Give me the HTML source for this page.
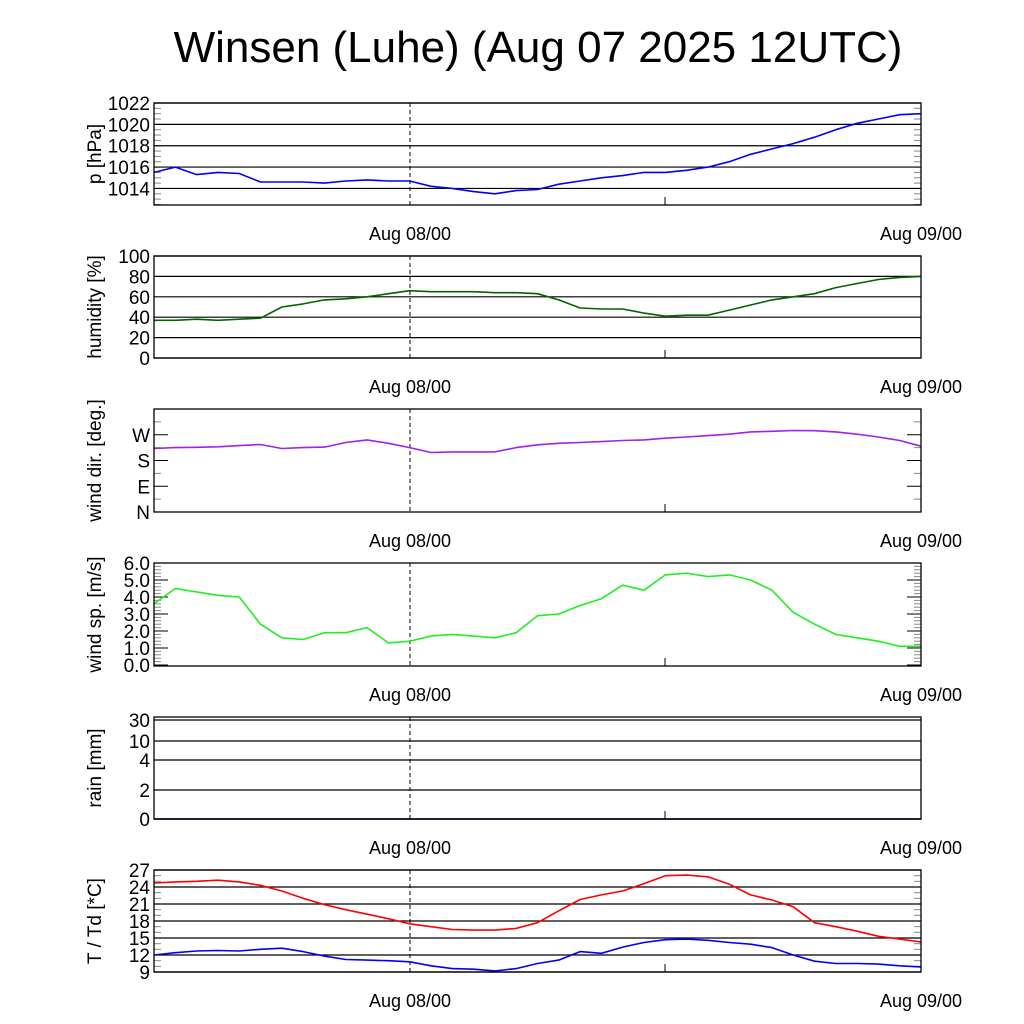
<!DOCTYPE html>
<html><head><meta charset="utf-8">
<style>
body{margin:0;background:#fff;}
svg{display:block;font-family:"Liberation Sans",sans-serif;}
</style></head>
<body>
<svg id="chart" width="1024" height="1024" viewBox="0 0 1024 1024">
<text x="538" y="62" font-size="44" text-anchor="middle">Winsen (Luhe) (Aug 07 2025 12UTC)</text>
</svg>
<script>
// time axis in hours from Aug 07 12UTC
const hours = [0,1,2,3,4,5,6,7,8,9,10,11,12,13,14,15,16,17,18,19,20,21,22,23,24,25,26,27,28,29,30,31,32,33,34,35,36];
const pressure = [1015.5,1016,1015.3,1015.5,1015.4,1014.6,1014.6,1014.6,1014.5,1014.7,1014.8,1014.7,1014.7,1014.2,1014,1013.7,1013.5,1013.8,1013.9,1014.4,1014.7,1015,1015.2,1015.5,1015.5,1015.7,1016,1016.5,1017.2,1017.7,1018.2,1018.8,1019.5,1020.1,1020.5,1020.9,1021];
const humidity = [37,37,38,37,38,39,50,53,57,58,60,63,66,65,65,65,64,64,63,57,49,48,48,44,41,42,42,47,52,57,60,63,69,73,77,79,80];
const windDir = [222,225,226,228,232,236,222,225,227,243,252,240,225,208,210,210,210,225,235,240,243,246,250,252,258,262,267,272,280,282,285,284,280,272,262,250,230];
const windSpeed = [3.6,4.5,4.3,4.1,4.0,2.4,1.6,1.5,1.9,1.9,2.2,1.3,1.4,1.7,1.8,1.7,1.6,1.9,2.9,3.0,3.5,3.9,4.7,4.4,5.3,5.4,5.2,5.3,5.0,4.4,3.1,2.4,1.8,1.6,1.4,1.1,1.1];
const rain = [0,0,0,0,0,0,0,0,0,0,0,0,0,0,0,0,0,0,0,0,0,0,0,0,0,0,0,0,0,0,0,0,0,0,0,0,0];
const temp = [24.7,24.9,25.0,25.2,24.9,24.3,23.3,22.0,20.9,20.0,19.2,18.4,17.5,17.0,16.5,16.4,16.4,16.7,17.7,19.8,21.8,22.6,23.3,24.6,26.0,26.1,25.8,24.5,22.6,21.7,20.5,17.7,17.0,16.2,15.3,14.8,14.3];
const dewpoint = [12.0,12.4,12.7,12.8,12.7,13.0,13.2,12.6,11.8,11.2,11.1,11.0,10.8,10.1,9.6,9.5,9.2,9.6,10.5,11.1,12.6,12.3,13.4,14.2,14.7,14.8,14.6,14.2,13.9,13.3,12.0,10.9,10.5,10.5,10.4,10.1,9.9];
const pTicks = [1014,1016,1018,1020,1022];
const hTicks = [0,20,40,60,80,100];
const dTicks = [0,90,180,270];
const dLabels = ["N","E","S","W"];
const sTicks = [0,1,2,3,4,5,6];
const rTicks = [0,2,4,10,30];
const tTicks = [9,12,15,18,21,24,27];

const NS="http://www.w3.org/2000/svg";
const svg=document.getElementById('chart');
const X0=154,X1=921,H=36;
function xs(h){return X0+(X1-X0)*h/H;}
function mk(tag,attrs,parent){const e=document.createElementNS(NS,tag);for(const k in attrs)e.setAttribute(k,attrs[k]);(parent||svg).appendChild(e);return e;}

function panel(name,top,bot,yfun,ticks,labels,grid,title,minor,series){
  const g=mk('g',{});
  
  
  minor.forEach(v=>{const y=yfun(v);mk('line',{x1:X0,x2:X0+7,y1:y,y2:y,stroke:'#888','stroke-width':1},g);mk('line',{x1:X1-7,x2:X1,y1:y,y2:y,stroke:'#888','stroke-width':1},g);});
  ticks.forEach((v,i)=>{const y=yfun(v);
    if(grid) mk('line',{x1:X0,x2:X1,y1:y,y2:y,stroke:'#000','stroke-width':1.2},g);
    else {mk('line',{x1:X0,x2:X0+14,y1:y,y2:y,stroke:'#000','stroke-width':1},g);mk('line',{x1:X1-14,x2:X1,y1:y,y2:y,stroke:'#000','stroke-width':1},g);}
    const t=mk('text',{x:X0-4,y:y+7,'font-size':19,'text-anchor':'end'},g);t.textContent=labels[i];
    
    
  });
  mk('line',{x1:410,x2:410,y1:top,y2:bot,stroke:'#000','stroke-width':1,'stroke-dasharray':'4,3'},g);
  mk('line',{x1:665,x2:665,y1:bot-8,y2:bot,stroke:'#000','stroke-width':1},g);
  series.forEach(s=>{
    const pts=hours.map((h,i)=>xs(h).toFixed(1)+','+yfun(s.data[i]).toFixed(1)).join(' ');
    const pl=mk('polyline',{points:pts,fill:'none',stroke:s.color,'stroke-width':1.6,'stroke-linejoin':'round'},g);
    
    
  });
  mk('rect',{x:X0,y:top,width:X1-X0,height:bot-top,fill:'none',stroke:'#000','stroke-width':1.3},g);
  const cy=(top+bot)/2;
  const tt=mk('text',{x:0,y:0,'font-size':19,'text-anchor':'middle',transform:`translate(101,${cy}) rotate(-90)`},g);
  tt.textContent=title;
  
  
  const a=mk('text',{x:410,y:bot+35,'font-size':18,'text-anchor':'middle'},g);a.textContent='Aug 08/00';
  
  
  const b=mk('text',{x:921,y:bot+35,'font-size':18,'text-anchor':'middle'},g);b.textContent='Aug 09/00';
  
  
}
function lin(top,bot,vmin,vmax){return v=>bot-(v-vmin)/(vmax-vmin)*(bot-top);}
function rng(a,b,s){const r=[];for(let v=a;v<=b+1e-9;v+=s)r.push(v);return r;}

const py=lin(103,205,1012.45,1022);
panel('pressure',103,205,py,pTicks,pTicks.map(String),true,'p [hPa]',rng(1012.5,1022,0.5),[{data:pressure,color:'#0000ff',name:'pressure-line'}]);
const hy=lin(256,358,0,100);
panel('humidity',256,358,hy,hTicks,hTicks.map(String),true,'humidity [%]',[],[{data:humidity,color:'#006400',name:'humidity-line'}]);
const dy=lin(409,512,0,360);
panel('winddir',409,512,dy,dTicks,dLabels,false,'wind dir. [deg.]',rng(45,315,90),[{data:windDir,color:'#a020f0',name:'wind-direction-line'}]);
const sy=lin(563,665,0,6);
panel('windspeed',563,666,sy,sTicks,sTicks.map(v=>v.toFixed(1)),false,'wind sp. [m/s]',rng(0,6,0.2),[{data:windSpeed,color:'#22ee22',name:'wind-speed-line'}]);
const rv=[0,2,4,10,30],ryp=[819,790,760,741,720];
function ry(v){for(let i=1;i<rv.length;i++){if(v<=rv[i]){return ryp[i-1]+(v-rv[i-1])/(rv[i]-rv[i-1])*(ryp[i]-ryp[i-1]);}}return 717;}
panel('rain',717,819,ry,rTicks,rTicks.map(String),true,'rain [mm]',[],[{data:rain,color:'#00008b',name:'rain-line'}]);
const ty=lin(870,972,9,27);
panel('temp',870,972,ty,tTicks,tTicks.map(String),true,'T / Td [*C]',rng(9,27,1),[{data:temp,color:'#ff0000',name:'temperature-line'},{data:dewpoint,color:'#0000ff',name:'dewpoint-line'}]);
</script>
</body></html>
